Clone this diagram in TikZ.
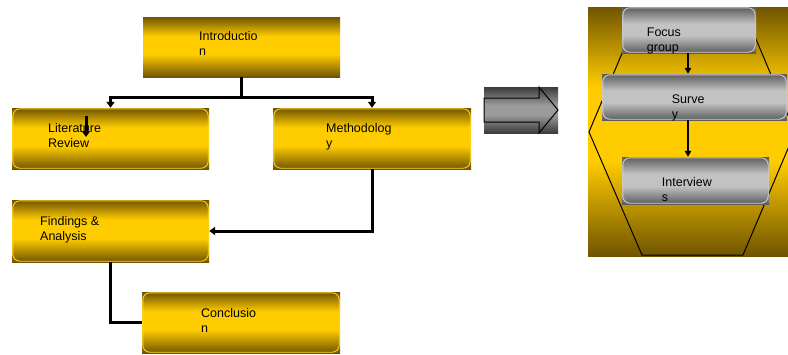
\documentclass[tikz,border=0pt]{standalone}
\usepackage{fontspec}
\setmainfont{Liberation Sans}
\usetikzlibrary{arrows.meta}
\definecolor{ydark}{RGB}{112,84,0}
\definecolor{ymid}{RGB}{255,204,0}
\definecolor{yedge}{RGB}{255,210,40}
\definecolor{gdark}{RGB}{92,92,92}
\definecolor{glight}{RGB}{194,194,194}
\definecolor{gedge}{RGB}{205,205,205}
\definecolor{adark}{RGB}{60,60,60}
\definecolor{alight}{RGB}{155,155,155}
\pgfdeclareverticalshading{yshade}{100bp}{color(0bp)=(ydark); color(25bp)=(ydark); color(44bp)=(ymid); color(59bp)=(ymid); color(75bp)=(ydark); color(100bp)=(ydark)}
\pgfdeclareverticalshading{gshade}{100bp}{color(0bp)=(gdark); color(25bp)=(gdark); color(44bp)=(glight); color(57bp)=(glight); color(75bp)=(gdark); color(100bp)=(gdark)}
\pgfdeclareverticalshading{ashade}{100bp}{color(0bp)=(adark); color(25bp)=(adark); color(45bp)=(alight); color(55bp)=(alight); color(75bp)=(adark); color(100bp)=(adark)}
\tikzset{
  ybox/.style={rectangle, inner sep=0pt, shading=yshade, draw=none},
  gbox/.style={rectangle, inner sep=0pt, shading=gshade, draw=none},
  yrim/.style={draw=yedge, line width=0.9pt, rounded corners=7pt},
  grim/.style={draw=gedge, line width=0.9pt, rounded corners=7pt},
  lbl/.style={anchor=base west, inner sep=0pt, align=left, font=\fontsize{12.5}{15}\selectfont},
  conn/.style={line width=3pt, black},
  arr/.style={conn, -{Triangle[width=8pt,length=6pt]}, shorten >=0pt},
  thinarr/.style={line width=2pt, black, -{Triangle[width=6.5pt,length=6pt]}},
}
\begin{document}
\begin{tikzpicture}[x=1pt,y=-1pt]
\useasboundingbox (0,0) rectangle (788,354);
% ---------- left flow ----------
\node[ybox, minimum width=197pt, minimum height=60pt] (intro) at (241.5,47) {};
\node[ybox, minimum width=197pt, minimum height=61pt] (lit) at (110.5,138.5) {};
\node[ybox, minimum width=198pt, minimum height=61pt] (meth) at (372,138.5) {};
\node[ybox, minimum width=197pt, minimum height=62pt] (find) at (110.5,231) {};
\node[ybox, minimum width=198pt, minimum height=61pt] (conc) at (241,322.5) {};
\foreach \n in {lit,meth,find,conc}{
  \draw[yrim] ([xshift=1pt,yshift=-1pt]\n.north west) rectangle ([xshift=-1pt,yshift=1pt]\n.south east);
}
\node[lbl] (tintro) at (199,55.7) {Introductio\\n};
\node[lbl] (tlit) at (48,147.5) {Literature\\Review};
\node[lbl] (tmeth) at (326,147.5) {Methodolog\\y};
\node[lbl] (tfind) at (40,240) {Findings \&\\Analysis};
\node[lbl] (tconc) at (201,332.3) {Conclusio\\n};
% connectors
\draw[conn] (intro.south) -- ++(0,20) coordinate (j);
\draw[arr] (j) -| (lit.north);
\draw[arr] (j) -| (meth.north);
\draw[arr] (meth.south) |- (find.east);
\draw[conn] (find.south) |- (conc.west);
\coordinate (la) at (86,116);
\coordinate (lb) at (86,137);
\draw[arr] (la) -- (lb);
% ---------- big arrow ----------
\node[rectangle, inner sep=0pt, minimum width=74pt, minimum height=46pt, shading=ashade] (bigbg) at (521,110) {};
\draw[black, line width=1pt, shading=ashade]
  (484,98) -- (539,98) -- (539,87) -- (558,110) -- (539,133) -- (539,122) -- (484,122) -- cycle;
% ---------- right panel ----------
\node[rectangle, inner sep=0pt, minimum width=200pt, minimum height=249pt, shading=yshade] (panel) at (688,131.5) {};
\begin{scope}
\clip (panel.north west) rectangle (panel.south east);
\draw[black, line width=1pt] (636,20) -- (748,20) -- (795,132) -- (743,255) -- (642,255) -- (589,132) -- cycle;
\end{scope}
\node[gbox, minimum width=134pt, minimum height=46pt] (focus) at (689,30) {};
\node[gbox, minimum width=185pt, minimum height=46pt] (survey) at (694.5,97) {};
\node[gbox, minimum width=147pt, minimum height=47pt] (inter) at (695.5,180.5) {};
\foreach \n in {focus,survey,inter}{
  \draw[grim] ([xshift=1pt,yshift=-1pt]\n.north west) rectangle ([xshift=-1pt,yshift=1pt]\n.south east);
}
\node[lbl] (tfocus) at (646.7,51) {Focus\\group};
\node[lbl] (tsurvey) at (671.7,118.3) {Surve\\y};
\node[lbl] (tinter) at (661.7,201.7) {Interview\\s};
\draw[thinarr] ([xshift=-1pt]focus.south) -- ([xshift=-1pt]focus.south |- survey.north);
\draw[thinarr] ([xshift=-1pt]focus.south |- survey.south) -- ([xshift=-1pt]focus.south |- inter.north);
\end{tikzpicture}
\end{document}
